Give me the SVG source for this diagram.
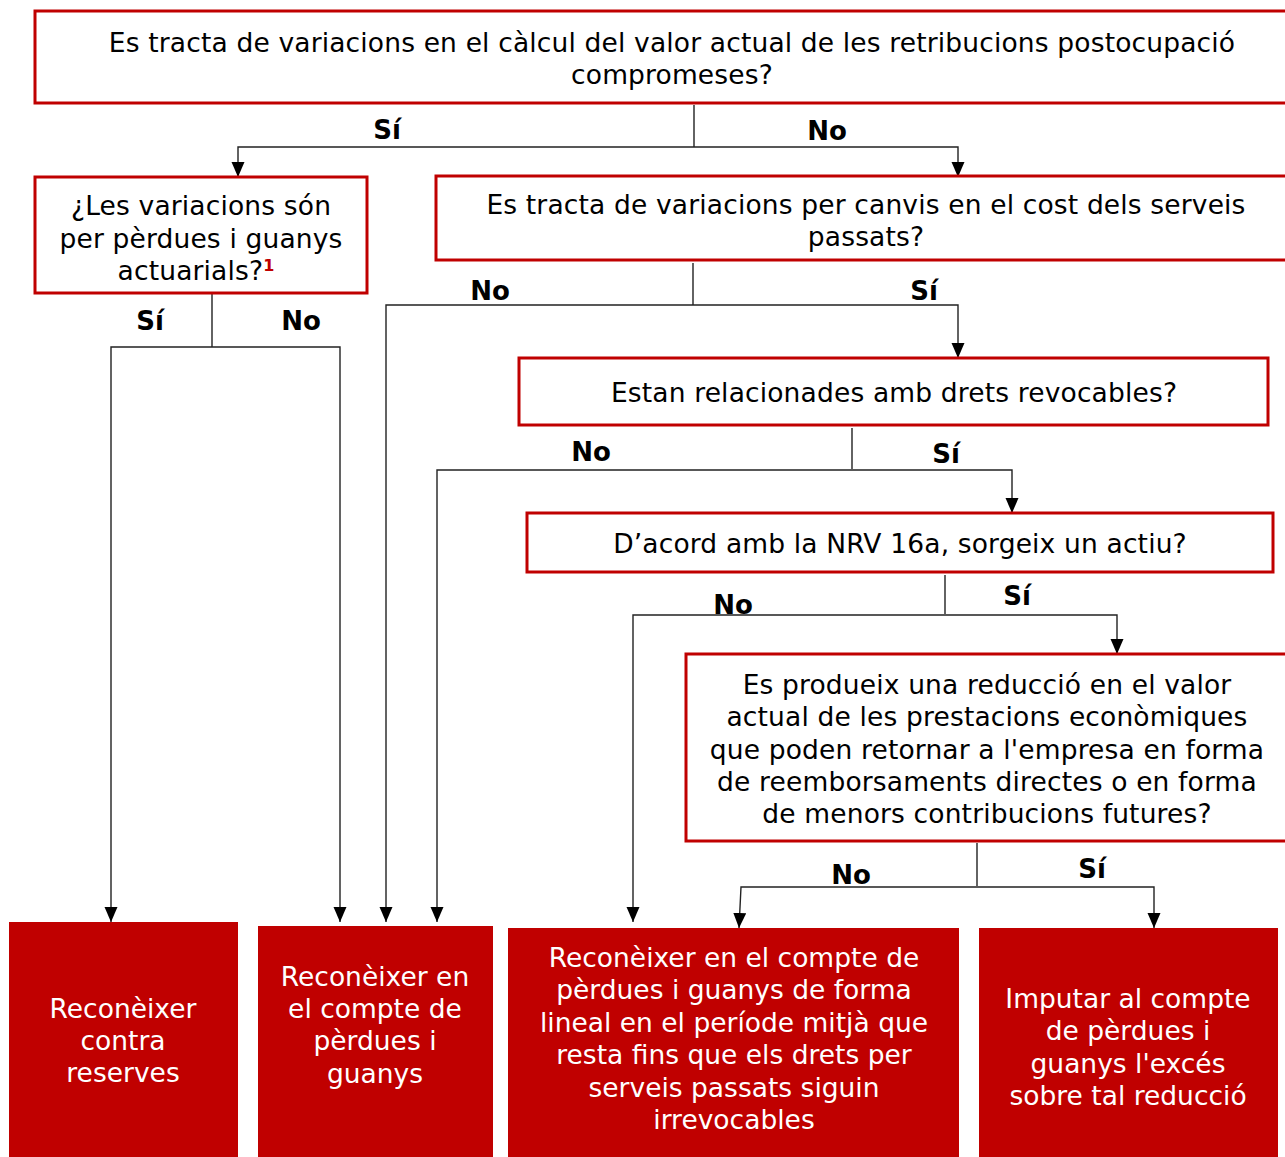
<svg xmlns="http://www.w3.org/2000/svg" width="1285" height="1157" viewBox="0 0 1285 1157">
<style>
.q{fill:#fff;stroke:#c00000;stroke-width:3}
.r{fill:#c00000;stroke:none}
.t{font-family:"DejaVu Sans",Verdana,sans-serif;font-size:26.5px;letter-spacing:0.15px;fill:#000;text-anchor:middle}
.w{font-family:"DejaVu Sans",Verdana,sans-serif;font-size:26.5px;fill:#fff;text-anchor:middle}
.l{font-family:"DejaVu Sans",Verdana,sans-serif;font-size:26px;font-weight:bold;fill:#000;text-anchor:middle}
.c{fill:none;stroke:#222;stroke-width:1.4}
</style>
<defs>
<marker id="ah" markerUnits="userSpaceOnUse" markerWidth="16" markerHeight="14" refX="15" refY="6.5" orient="auto">
<path d="M0,0 L15,6.5 L0,13 z" fill="#000"/>
</marker>
</defs>
<rect width="1285" height="1157" fill="#fff"/>

<g id="connectors">
<path class="c" d="M694,105 V147"/>
<path class="c" d="M694,147 H238 V177" marker-end="url(#ah)"/>
<path class="c" d="M694,147 H958 V177" marker-end="url(#ah)"/>
<path class="c" d="M212,294 V347"/>
<path class="c" d="M212,347 H111 V922" marker-end="url(#ah)"/>
<path class="c" d="M212,347 H340 V922" marker-end="url(#ah)"/>
<path class="c" d="M693,263 V305"/>
<path class="c" d="M693,305 H386 V922" marker-end="url(#ah)"/>
<path class="c" d="M693,305 H958 V358" marker-end="url(#ah)"/>
<path class="c" d="M852,428 V469"/>
<path class="c" d="M852,470 H437 V922" marker-end="url(#ah)"/>
<path class="c" d="M852,470 H1012 V513" marker-end="url(#ah)"/>
<path class="c" d="M945,575 V614"/>
<path class="c" d="M945,615 H633 V922" marker-end="url(#ah)"/>
<path class="c" d="M945,615 H1117 V654" marker-end="url(#ah)"/>
<path class="c" d="M977,843 V886"/>
<path class="c" d="M977,887 H741 L739,928" marker-end="url(#ah)"/>
<path class="c" d="M977,887 H1154 V928" marker-end="url(#ah)"/>
<text class="l" x="387" y="139">Sí</text>
<text class="l" x="827" y="140">No</text>
<text class="l" x="150" y="330">Sí</text>
<text class="l" x="301" y="330">No</text>
<text class="l" x="490" y="300">No</text>
<text class="l" x="924" y="300">Sí</text>
<text class="l" x="591" y="461">No</text>
<text class="l" x="946" y="463">Sí</text>
<text class="l" x="733" y="614">No</text>
<text class="l" x="1017" y="605">Sí</text>
<text class="l" x="851" y="884">No</text>
<text class="l" x="1092" y="878">Sí</text>
</g>

<g id="n1">
<rect class="q" x="35" y="11" width="1262" height="92"/>
<text class="t" x="672" y="52">Es tracta de variacions en el càlcul del valor actual de les retribucions postocupació</text>
<text class="t" x="672" y="84">compromeses?</text>
</g>

<g id="n2">
<rect class="q" x="35" y="177" width="332" height="116"/>
<text class="t" x="201" y="215">¿Les variacions són</text>
<text class="t" x="201" y="248">per pèrdues i guanys</text>
<text class="t" x="196" y="280">actuarials?<tspan font-size="16" font-weight="bold" fill="#c00000" dy="-9">1</tspan></text>
</g>

<g id="n3">
<rect class="q" x="436" y="176" width="861" height="84"/>
<text class="t" x="866" y="214">Es tracta de variacions per canvis en el cost dels serveis</text>
<text class="t" x="866" y="246">passats?</text>
</g>

<g id="n4">
<rect class="q" x="519" y="358" width="749" height="67"/>
<text class="t" x="894" y="402">Estan relacionades amb drets revocables?</text>
</g>

<g id="n5">
<rect class="q" x="527" y="513" width="746" height="59"/>
<text class="t" x="900" y="553">D’acord amb la NRV 16a, sorgeix un actiu?</text>
</g>

<g id="n6">
<rect class="q" x="686" y="654" width="611" height="187"/>
<text class="t" x="987" y="694">Es produeix una reducció en el valor</text>
<text class="t" x="987" y="726">actual de les prestacions econòmiques</text>
<text class="t" x="987" y="759">que poden retornar a l'empresa en forma</text>
<text class="t" x="987" y="791">de reemborsaments directes o en forma</text>
<text class="t" x="987" y="823">de menors contribucions futures?</text>
</g>

<g id="b1">
<rect class="r" x="9" y="922" width="229" height="240"/>
<text class="w" x="123" y="1018">Reconèixer</text>
<text class="w" x="123" y="1050">contra</text>
<text class="w" x="123" y="1082">reserves</text>
</g>

<g id="b2">
<rect class="r" x="258" y="926" width="235" height="236"/>
<text class="w" x="375" y="986">Reconèixer en</text>
<text class="w" x="375" y="1018">el compte de</text>
<text class="w" x="375" y="1050">pèrdues i</text>
<text class="w" x="375" y="1083">guanys</text>
</g>

<g id="b3">
<rect class="r" x="508" y="928" width="451" height="234"/>
<text class="w" x="734" y="967">Reconèixer en el compte de</text>
<text class="w" x="734" y="999">pèrdues i guanys de forma</text>
<text class="w" x="734" y="1032">lineal en el període mitjà que</text>
<text class="w" x="734" y="1064">resta fins que els drets per</text>
<text class="w" x="734" y="1097">serveis passats siguin</text>
<text class="w" x="734" y="1129">irrevocables</text>
</g>

<g id="b4">
<rect class="r" x="979" y="928" width="299" height="234"/>
<text class="w" x="1128" y="1008">Imputar al compte</text>
<text class="w" x="1128" y="1040">de pèrdues i</text>
<text class="w" x="1128" y="1073">guanys l'excés</text>
<text class="w" x="1128" y="1105">sobre tal reducció</text>
</g>
</svg>
